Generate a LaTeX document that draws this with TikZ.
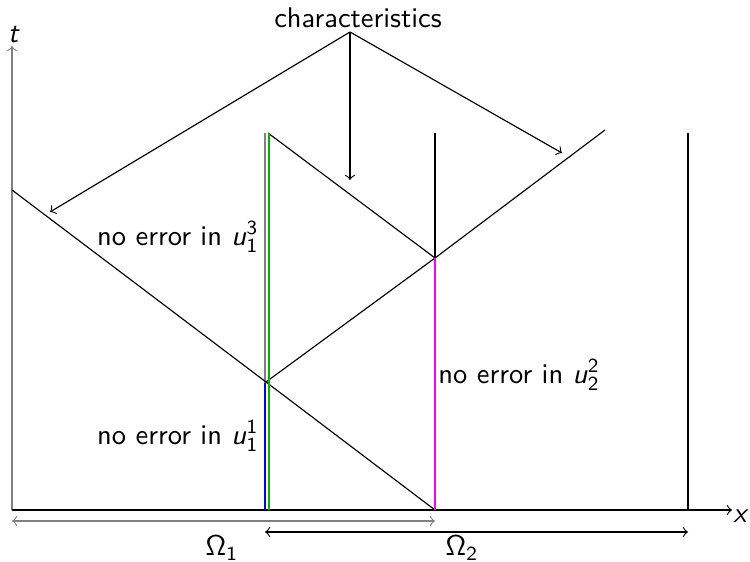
\documentclass[tikz,border=0pt]{standalone}
\usetikzlibrary{arrows}
\definecolor{mag}{RGB}{255,0,255}
\definecolor{grn}{RGB}{0,180,0}
\definecolor{blu}{RGB}{0,0,255}
\newcommand{\uu}[2]{\textit{u}\ensuremath{^{\mathsf{#2}}_{\mathsf{#1}}}}
\begin{document}
\begin{tikzpicture}[x=0.351pt,y=-0.351pt,font=\sffamily,
  thinline/.style={line width=0.4pt},
  colline/.style={line width=0.95pt},
  lbl/.style={inner sep=1pt}]
\useasboundingbox (0,0) rectangle (750,562);
% coordinates
\coordinate (O) at (12,510);
\coordinate (ttop) at (12,46);
\coordinate (xend) at (732,510);
\coordinate (A) at (12,190);
\coordinate (P) at (266,382);
\coordinate (Q) at (435,258);
\coordinate (B) at (435,510);
\coordinate (C) at (268,133);
\coordinate (D) at (605,130);
\coordinate (E) at (435,133);
\coordinate (F) at (688,133);
\coordinate (G) at (688,510);
\coordinate (Htop) at (265,133);
\coordinate (Hbot) at (265,510);
% axes
\draw[gray,thinline,->] (O) -- (ttop);
\node[lbl] (tl) at (14,35) {\textit{t}};
\draw[thinline,->] (O) -- (xend);
\node[lbl] (xl) at (741,516) {\textit{x}};
% verticals
\draw[gray,thinline] (Htop) -- (Hbot);
\draw[thinline] (E) -- (Q);
\draw[thinline] (F) -- (G);
% characteristics
\draw[thinline] (A) -- (P) -- (B);
\draw[thinline] (P) -- (Q) -- (D);
\draw[thinline] (C) -- (Q);
% colored lines
\draw[blu,colline] (265,383) -- (265,510);
\draw[grn,colline] (269,133) -- (269,510);
\draw[mag,colline] (Q) -- (B);
% characteristics label and arrows
\node[lbl] (ch) at (358,18) {characteristics};
\coordinate (chp) at (350,32);
\coordinate (a1) at (50,212);
\coordinate (a2) at (350,180);
\coordinate (a3) at (562,153);
\draw[thinline,->] (chp) -- (a1);
\draw[thinline,->] (chp) -- (a2);
\draw[thinline,->] (chp) -- (a3);
% labels
\node[lbl,anchor=east] (l13) at (262,237) {no error in \uu{1}{3}};
\node[lbl,anchor=east] (l11) at (262,436) {no error in \uu{1}{1}};
\node[lbl,anchor=west] (l22) at (435,375) {no error in \uu{2}{2}};
% domains
\draw[gray,thinline,<->] (12,521) -- (435,521);
\draw[thinline,<->] (265,532) -- (688,532);
\node[lbl] (om1) at (222,548) {$\mathsf{\Omega}_{\mathsf{1}}$};
\node[lbl] (om2) at (462,548) {$\mathsf{\Omega}_{\mathsf{2}}$};
\end{tikzpicture}
\end{document}
